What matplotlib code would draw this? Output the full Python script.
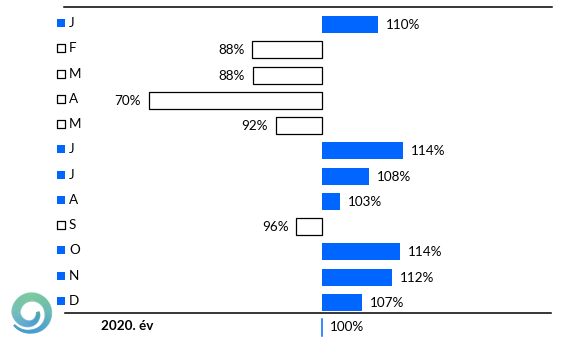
import numpy as np
import matplotlib
matplotlib.use("Agg")
from matplotlib import pyplot as plt
from matplotlib.lines import Line2D
from matplotlib.collections import LineCollection

plt.rcParams['font.family'] = ['Lato', 'DejaVu Sans']

months = ['J', 'F', 'M', 'A', 'M', 'J', 'J', 'A', 'S', 'O', 'N', 'D']
values = [109.6, 88.0, 88.1, 70.2, 92.0, 114.0, 108.1, 103.1, 95.6, 113.5, 112.0, 106.9]
labels = ['110%', '88%', '88%', '70%', '92%', '114%', '108%', '103%', '96%', '114%', '112%', '107%']
year_label = '2020. év'
base = 100

W, H = 567, 340
blue = '#0066ff'

# pixel layout
px_per = 5.8
base_px = 322
row0_px, row_step = 24.5, 25.27

fig = plt.figure(figsize=(W / 100, H / 100), dpi=100)
ax = fig.add_axes([0, 0, 1, 1])
ax.set_xlim(base - base_px / px_per, base + (W - base_px) / px_per)
ax.set_ylim((H - row0_px) / row_step, -row0_px / row_step)
ax.axis('off')

y = np.arange(len(months))
up = np.array(values) >= base
widths = np.array(values) - base

ax.barh(y[up], widths[up], left=base, height=0.67, color=blue, linewidth=0)
ax.barh(y[~up], widths[~up], left=base, height=0.67, facecolor='white',
        edgecolor='black', linewidth=0.9)

gap = 8 / px_per
for i, (v, lab) in enumerate(zip(values, labels)):
    if v >= base:
        ax.text(v + gap, i + 0.02, lab, ha='left', va='center', fontsize=9.7)
    else:
        ax.text(v - gap, i + 0.02, lab, ha='right', va='center', fontsize=9.7)

# legend-like month markers
tr = ax.get_yaxis_transform()
ax.scatter([61 / W] * int(up.sum()), y[up] - 0.06, marker='s', s=30, color=blue,
           linewidth=0, transform=tr)
ax.scatter([61 / W] * int((~up).sum()), y[~up] - 0.06, marker='s', s=27,
           facecolor='white', edgecolor='black', linewidth=0.9, transform=tr)
for i, m in enumerate(months):
    ax.text(69 / W, i - 0.06, m, ha='left', va='center', fontsize=9.7, transform=tr)

# rules
fig.add_artist(Line2D([64 / W, 552 / W], [1 - 7 / H] * 2, color='black', linewidth=1.1))
fig.add_artist(Line2D([65 / W, 551 / W], [1 - 313 / H] * 2, color='black', linewidth=1.1))

# bottom: year and 100% marker
fig.text(127 / W, 1 - 326 / H, year_label, ha='center', va='center',
         fontsize=9.7, fontweight='bold')
fig.add_artist(Line2D([base_px / W] * 2, [1 - 319 / H, 1 - 336 / H], color=blue, linewidth=1.1))
fig.text(330 / W, 1 - 327 / H, f'{base}%', ha='left', va='center', fontsize=9.7)

# logo: spiral band
lax = fig.add_axes([6 / W, 1 - 338 / H, 50 / W, 50 / H])
lax.set_xlim(-25, 25)
lax.set_ylim(-25, 25)
lax.set_aspect('equal')
lax.axis('off')
ang = np.radians(np.array([-145, -90, 0, 90, 180, 250, 320, 370]))
r_o = np.array([21.5, 20.0, 20.0, 20.0, 19.5, 14.5, 9.5, 7.5])
bw = np.array([0.8, 3.0, 6.5, 8.0, 8.0, 6.0, 4.0, 2.5])
t = np.linspace(ang[0], ang[-1], 500)
r_out = np.interp(t, ang, r_o)
band = np.interp(t, ang, bw)
for k in np.linspace(0, 1, 10):
    r = r_out - band * k
    xs, ys = r * np.cos(t) + 0.5, r * np.sin(t)
    pts = np.column_stack([xs, ys]).reshape(-1, 1, 2)
    segs = np.concatenate([pts[:-1], pts[1:]], axis=1)
    s = (np.sin(t[:-1]) + 1) / 2
    cols = np.column_stack([0.28 + 0.06 * s, 0.62 + 0.12 * s, 0.82 - 0.28 * s,
                            np.full_like(s, 0.9)])
    lax.add_collection(LineCollection(segs, colors=cols, linewidths=0.9))

fig.savefig('out.png', dpi=100)
